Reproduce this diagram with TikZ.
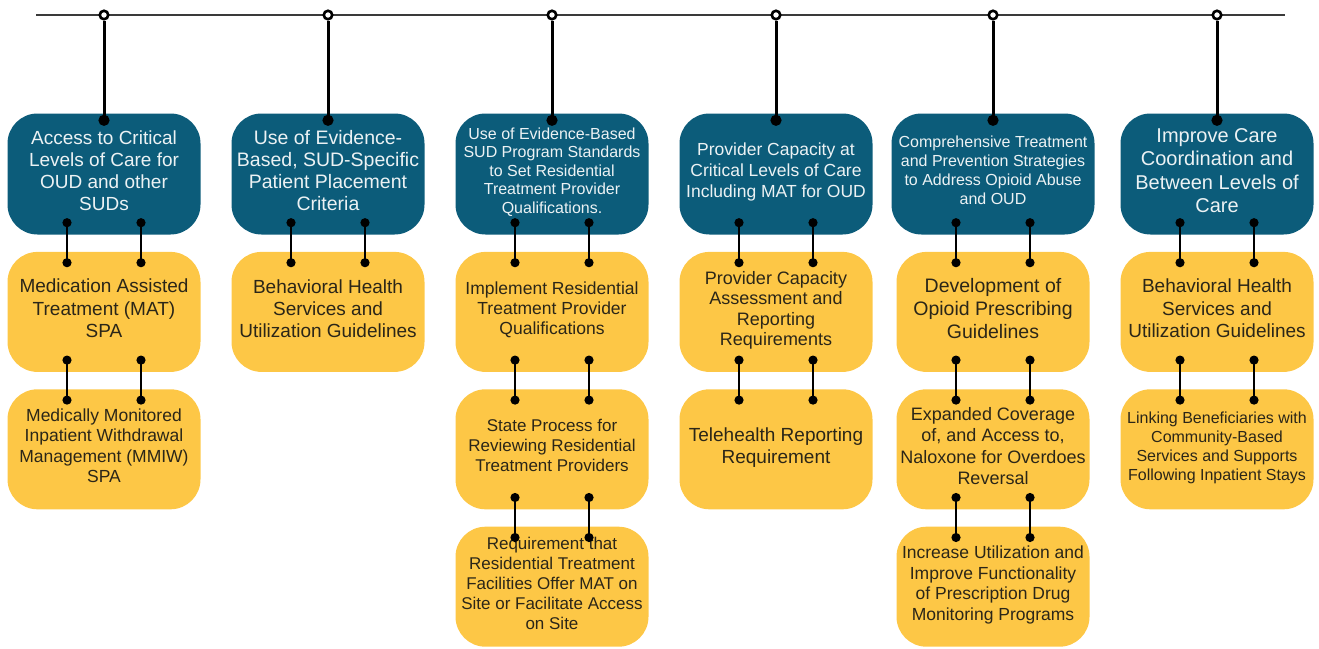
\documentclass[tikz,border=0pt]{standalone}
\usepackage{fontspec}
\setmainfont{Liberation Sans}
\usepackage{xcolor}
\usepackage{tikz}
\usetikzlibrary{positioning,arrows.meta,calc}
\definecolor{cGoal}{HTML}{0C5C7A}
\definecolor{cTask}{HTML}{FDC746}
\definecolor{cInk}{HTML}{2B2618}
\definecolor{cRail}{HTML}{3A3A3A}
\newcommand{\fsz}[2]{\fontsize{#1}{#2}\selectfont}

\begin{document}
\begin{tikzpicture}[
  x=1pt,y=-1pt,
  goal/.style={fill=cGoal,text=white!92!cGoal,rounded corners=30pt,minimum width=193pt,minimum height=121pt,inner sep=2pt,text depth=7pt,align=center},
  task/.style={fill=cTask,text=cInk,rounded corners=30pt,minimum width=193pt,minimum height=120pt,inner sep=2pt,text depth=7pt,align=center},
  link/.style={line width=2.4pt,{Circle[length=9pt]}-{Circle[length=9pt]}},
  stem/.style={line width=3pt,-{Circle[length=11pt]}},
  hub/.style={draw=black,fill=white,circle,line width=2.6pt,minimum size=8.5pt,inner sep=0pt},
  rail/.style={draw=cRail,line width=2pt}
]
\useasboundingbox (0,0) rectangle (1319,648);

% goals along the rail
\node[goal,font=\fsz{19}{22}] (b1) at (104,174) {Access to Critical\\Levels of Care for\\OUD and other\\SUDs};
\node[goal,font=\fsz{19.5}{22}] (b2) at (328,174) {Use of Evidence-\\Based, SUD-Specific\\Patient Placement\\Criteria};
\node[goal,font=\fsz{16}{18.5}] (b3) at (552,174) {Use of Evidence-Based\\SUD Program Standards\\to Set Residential\\Treatment Provider\\Qualifications.};
\node[goal,font=\fsz{17.5}{21}] (b4) at (776,174) {Provider Capacity at\\Critical Levels of Care\\Including MAT for OUD};
\node[goal,font=\fsz{16}{19},minimum width=203pt] (b5) at (993,174) {Comprehensive Treatment\\and Prevention Strategies\\to Address Opioid Abuse\\and OUD};
\node[goal,font=\fsz{20}{23.5}] (b6) at (1217,174) {Improve Care\\Coordination and\\Between Levels of\\Care};

% tasks under each goal
\node[task,font=\fsz{19}{22.5},below=17pt of b1] (t11) {Medication Assisted\\Treatment (MAT)\\SPA};
\node[task,font=\fsz{17.5}{20.5},below=17pt of t11] (t12) {Medically Monitored\\Inpatient Withdrawal\\Management (MMIW)\\SPA};
\node[task,font=\fsz{19}{22},below=17pt of b2] (t21) {Behavioral Health\\Services and\\Utilization Guidelines};
\node[task,font=\fsz{17.5}{20},below=17pt of b3] (t31) {Implement Residential\\Treatment Provider\\Qualifications};
\node[task,font=\fsz{17}{20},below=17pt of t31] (t32) {State Process for\\Reviewing Residential\\Treatment Providers};
\node[task,font=\fsz{17}{20},below=17pt of t32] (t33) {Requirement that\\Residential Treatment\\Facilities Offer MAT on\\Site or Facilitate Access\\on Site};
\node[task,font=\fsz{18}{20.5},below=17pt of b4] (t41) {Provider Capacity\\Assessment and\\Reporting\\Requirements};
\node[task,font=\fsz{19}{22},below=17pt of t41] (t42) {Telehealth Reporting\\Requirement};
\node[task,font=\fsz{19.5}{23},below=17pt of b5] (t51) {Development of\\Opioid Prescribing\\Guidelines};
\node[task,font=\fsz{18}{21.5},below=17pt of t51] (t52) {Expanded Coverage\\of, and Access to,\\Naloxone for Overdoes\\Reversal};
\node[task,font=\fsz{17.5}{20.5},below=17pt of t52] (t53) {Increase Utilization and\\Improve Functionality\\of Prescription Drug\\Monitoring Programs};
\node[task,font=\fsz{19}{22.5},below=17pt of b6] (t61) {Behavioral Health\\Services and\\Utilization Guidelines};
\node[task,font=\fsz{16}{19},below=17pt of t61] (t62) {Linking Beneficiaries with\\Community-Based\\Services and Supports\\Following Inpatient Stays};

% rail and hubs
\coordinate (railL) at (36,15);
\coordinate (railR) at (1285,15);
\draw[rail] (railL) -- (railR);
\foreach \i in {1,...,6} {
  \node[hub] (h\i) at (b\i.north |- railL) {};
  \draw[stem] (h\i.south) -- ($(b\i.north)+(0,12.5)$);
}

% double links between stacked boxes
\foreach \u/\l in {b1/t11,t11/t12,b2/t21,b3/t31,t31/t32,t32/t33,b4/t41,t41/t42,b5/t51,t51/t52,t52/t53,b6/t61,t61/t62}
  \foreach \dx in {-37,37}
    \draw[link] ($(\u.south)+(\dx,-16.5)$) -- ($(\l.north)+(\dx,15.5)$);
\end{tikzpicture}
\end{document}
